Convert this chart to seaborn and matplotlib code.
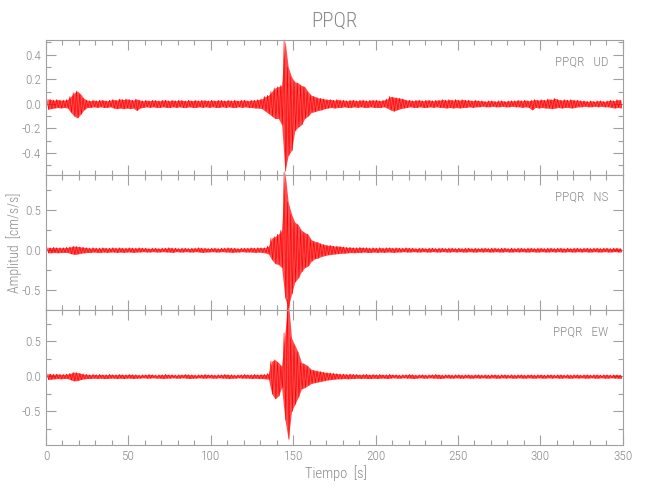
import numpy as np
import pandas as pd
import seaborn as sns
import matplotlib.pyplot as plt
from matplotlib.ticker import MultipleLocator

# peak envelopes, one value per 2 s bin (0-350 s)
ud_hi = [0.04, 0.035, 0.03, 0.035, 0.03, 0.03, 0.035, 0.06, 0.09, 0.105, 0.08, 0.045, 0.03, 0.025, 0.03, 0.025, 0.03, 0.03, 0.025, 0.03, 0.035, 0.03, 0.04, 0.035, 0.04,
         0.035, 0.03, 0.04, 0.03, 0.025, 0.03, 0.025, 0.03, 0.028, 0.025, 0.03, 0.03, 0.025, 0.03, 0.025, 0.03, 0.028, 0.025, 0.03, 0.025, 0.03, 0.025, 0.03, 0.028, 0.025,
         0.03, 0.025, 0.03, 0.028, 0.025, 0.03, 0.025, 0.03, 0.025, 0.03, 0.03, 0.025, 0.03, 0.03, 0.035, 0.04, 0.06, 0.07, 0.1, 0.13, 0.14, 0.15, 0.52, 0.3, 0.22,
         0.18, 0.17, 0.15, 0.14, 0.1, 0.07, 0.06, 0.05, 0.045, 0.04, 0.035, 0.035, 0.03, 0.035, 0.03, 0.03, 0.025, 0.03, 0.03, 0.025, 0.03, 0.03, 0.025, 0.03, 0.03,
         0.03, 0.025, 0.03, 0.04, 0.06, 0.055, 0.05, 0.045, 0.04, 0.03, 0.03, 0.025, 0.03, 0.03, 0.025, 0.03, 0.03, 0.025, 0.03, 0.03, 0.035, 0.03, 0.035, 0.03, 0.035,
         0.03, 0.035, 0.03, 0.03, 0.025, 0.03, 0.025, 0.025, 0.02, 0.025, 0.025, 0.02, 0.025, 0.025, 0.02, 0.025, 0.025, 0.025, 0.03, 0.025, 0.03, 0.025, 0.03, 0.035, 0.03,
         0.035, 0.03, 0.04, 0.035, 0.045, 0.035, 0.03, 0.035, 0.03, 0.035, 0.03, 0.03, 0.025, 0.025, 0.02, 0.025, 0.02, 0.025, 0.025, 0.02, 0.025, 0.03, 0.025, 0.035, 0.03]
ud_lo = [-0.045, -0.04, -0.035, -0.03, -0.035, -0.03, -0.035, -0.07, -0.1, -0.115, -0.085, -0.05, -0.03, -0.03, -0.025, -0.03, -0.025, -0.03, -0.03, -0.025, -0.035, -0.04, -0.035, -0.04, -0.035,
         -0.04, -0.035, -0.055, -0.035, -0.03, -0.025, -0.03, -0.025, -0.03, -0.03, -0.025, -0.03, -0.03, -0.025, -0.03, -0.025, -0.03, -0.03, -0.025, -0.03, -0.03, -0.025, -0.03, -0.025, -0.03,
         -0.025, -0.03, -0.03, -0.025, -0.03, -0.025, -0.03, -0.03, -0.025, -0.03, -0.025, -0.03, -0.03, -0.035, -0.035, -0.04, -0.06, -0.08, -0.1, -0.12, -0.12, -0.17, -0.55, -0.42, -0.38,
         -0.22, -0.19, -0.17, -0.12, -0.1, -0.07, -0.065, -0.055, -0.05, -0.04, -0.035, -0.03, -0.035, -0.03, -0.03, -0.025, -0.03, -0.03, -0.025, -0.03, -0.025, -0.03, -0.03, -0.025, -0.03,
         -0.03, -0.03, -0.025, -0.035, -0.05, -0.06, -0.05, -0.04, -0.035, -0.03, -0.025, -0.03, -0.03, -0.025, -0.03, -0.03, -0.025, -0.03, -0.025, -0.03, -0.03, -0.035, -0.03, -0.035, -0.03,
         -0.035, -0.03, -0.03, -0.025, -0.03, -0.025, -0.025, -0.02, -0.025, -0.025, -0.02, -0.025, -0.025, -0.02, -0.025, -0.025, -0.02, -0.025, -0.025, -0.03, -0.025, -0.03, -0.05, -0.03, -0.035,
         -0.03, -0.035, -0.035, -0.04, -0.035, -0.03, -0.035, -0.03, -0.03, -0.035, -0.03, -0.025, -0.025, -0.02, -0.025, -0.025, -0.02, -0.025, -0.02, -0.025, -0.025, -0.03, -0.035, -0.03, -0.035]

ns_hi = [0.035, 0.03, 0.035, 0.03, 0.03, 0.03, 0.035, 0.04, 0.05, 0.045, 0.04, 0.035, 0.03, 0.025, 0.03, 0.025, 0.025, 0.03, 0.025, 0.025, 0.03, 0.025, 0.03, 0.025, 0.025,
         0.03, 0.025, 0.025, 0.03, 0.025, 0.025, 0.02, 0.025, 0.025, 0.02, 0.025, 0.025, 0.03, 0.025, 0.025, 0.02, 0.025, 0.025, 0.02, 0.025, 0.025, 0.03, 0.025, 0.025, 0.02,
         0.025, 0.025, 0.02, 0.025, 0.025, 0.03, 0.025, 0.025, 0.02, 0.025, 0.025, 0.025, 0.03, 0.025, 0.03, 0.03, 0.03, 0.05, 0.15, 0.17, 0.2, 0.25, 0.98, 0.6, 0.45,
         0.35, 0.32, 0.25, 0.22, 0.2, 0.13, 0.11, 0.1, 0.08, 0.07, 0.06, 0.06, 0.05, 0.05, 0.045, 0.04, 0.035, 0.035, 0.03, 0.03, 0.035, 0.03, 0.03, 0.025, 0.03,
         0.025, 0.03, 0.025, 0.03, 0.03, 0.025, 0.03, 0.025, 0.025, 0.03, 0.025, 0.025, 0.02, 0.025, 0.025, 0.02, 0.025, 0.025, 0.02, 0.025, 0.025, 0.02, 0.025, 0.025, 0.02,
         0.025, 0.02, 0.025, 0.025, 0.02, 0.025, 0.02, 0.025, 0.025, 0.02, 0.025, 0.025, 0.02, 0.025, 0.025, 0.02, 0.025, 0.02, 0.025, 0.025, 0.02, 0.025, 0.025, 0.02, 0.025,
         0.025, 0.02, 0.025, 0.025, 0.02, 0.025, 0.025, 0.02, 0.025, 0.02, 0.025, 0.025, 0.02, 0.025, 0.025, 0.02, 0.025, 0.025, 0.02, 0.025, 0.025, 0.02, 0.025, 0.025, 0.02]
ns_lo = [-0.035, -0.035, -0.03, -0.035, -0.03, -0.03, -0.03, -0.045, -0.055, -0.05, -0.04, -0.035, -0.03, -0.03, -0.025, -0.03, -0.03, -0.025, -0.03, -0.025, -0.025, -0.03, -0.025, -0.03, -0.025,
         -0.025, -0.03, -0.025, -0.025, -0.02, -0.025, -0.025, -0.02, -0.025, -0.025, -0.02, -0.025, -0.025, -0.03, -0.02, -0.025, -0.025, -0.02, -0.025, -0.025, -0.02, -0.025, -0.03, -0.025, -0.025,
         -0.02, -0.025, -0.025, -0.02, -0.025, -0.025, -0.03, -0.025, -0.025, -0.02, -0.025, -0.025, -0.025, -0.03, -0.025, -0.03, -0.035, -0.05, -0.12, -0.17, -0.18, -0.22, -0.6, -0.72, -0.55,
         -0.4, -0.35, -0.27, -0.22, -0.2, -0.14, -0.11, -0.1, -0.08, -0.07, -0.06, -0.055, -0.05, -0.045, -0.04, -0.04, -0.035, -0.03, -0.035, -0.03, -0.03, -0.025, -0.03, -0.03, -0.025,
         -0.03, -0.025, -0.03, -0.025, -0.025, -0.03, -0.025, -0.025, -0.02, -0.025, -0.025, -0.02, -0.025, -0.025, -0.02, -0.025, -0.025, -0.02, -0.025, -0.025, -0.02, -0.025, -0.025, -0.02, -0.025,
         -0.02, -0.025, -0.025, -0.02, -0.025, -0.025, -0.02, -0.025, -0.02, -0.025, -0.025, -0.02, -0.025, -0.025, -0.02, -0.025, -0.025, -0.02, -0.025, -0.02, -0.025, -0.025, -0.02, -0.025, -0.025,
         -0.02, -0.025, -0.025, -0.02, -0.025, -0.02, -0.025, -0.025, -0.02, -0.025, -0.025, -0.02, -0.025, -0.02, -0.025, -0.025, -0.02, -0.025, -0.025, -0.02, -0.025, -0.025, -0.02, -0.025, -0.025]

ew_hi = [0.04, 0.035, 0.03, 0.035, 0.03, 0.03, 0.035, 0.045, 0.06, 0.055, 0.045, 0.035, 0.03, 0.025, 0.03, 0.025, 0.03, 0.025, 0.025, 0.03, 0.025, 0.025, 0.03, 0.025, 0.025,
         0.03, 0.025, 0.025, 0.02, 0.025, 0.025, 0.03, 0.025, 0.02, 0.025, 0.025, 0.03, 0.025, 0.025, 0.02, 0.025, 0.025, 0.03, 0.025, 0.025, 0.02, 0.025, 0.025, 0.03, 0.025,
         0.025, 0.02, 0.025, 0.025, 0.03, 0.025, 0.025, 0.02, 0.025, 0.025, 0.03, 0.025, 0.025, 0.03, 0.025, 0.03, 0.03, 0.04, 0.22, 0.24, 0.2, 0.15, 0.62, 1.1, 0.55,
         0.45, 0.35, 0.2, 0.18, 0.15, 0.1, 0.09, 0.08, 0.07, 0.06, 0.055, 0.05, 0.045, 0.04, 0.035, 0.035, 0.03, 0.035, 0.03, 0.03, 0.025, 0.03, 0.03, 0.025, 0.03,
         0.025, 0.03, 0.025, 0.025, 0.03, 0.025, 0.025, 0.02, 0.025, 0.025, 0.03, 0.025, 0.02, 0.025, 0.025, 0.02, 0.025, 0.025, 0.03, 0.025, 0.02, 0.025, 0.025, 0.02, 0.025,
         0.025, 0.02, 0.025, 0.025, 0.02, 0.025, 0.025, 0.02, 0.025, 0.02, 0.025, 0.025, 0.02, 0.025, 0.025, 0.02, 0.025, 0.02, 0.025, 0.025, 0.02, 0.025, 0.025, 0.02, 0.025,
         0.025, 0.02, 0.025, 0.025, 0.02, 0.025, 0.025, 0.02, 0.025, 0.02, 0.025, 0.025, 0.02, 0.025, 0.025, 0.02, 0.025, 0.025, 0.02, 0.025, 0.025, 0.02, 0.025, 0.025, 0.02]
ew_lo = [-0.045, -0.04, -0.035, -0.03, -0.035, -0.03, -0.03, -0.05, -0.065, -0.06, -0.045, -0.035, -0.03, -0.03, -0.025, -0.03, -0.025, -0.03, -0.03, -0.025, -0.025, -0.03, -0.025, -0.03, -0.025,
         -0.025, -0.03, -0.025, -0.025, -0.02, -0.025, -0.025, -0.02, -0.025, -0.025, -0.03, -0.025, -0.025, -0.02, -0.025, -0.025, -0.02, -0.025, -0.03, -0.025, -0.025, -0.02, -0.025, -0.025, -0.02,
         -0.025, -0.025, -0.02, -0.025, -0.025, -0.03, -0.025, -0.025, -0.02, -0.025, -0.025, -0.025, -0.03, -0.025, -0.03, -0.03, -0.035, -0.04, -0.25, -0.32, -0.28, -0.16, -0.62, -0.9, -0.5,
         -0.4, -0.3, -0.18, -0.16, -0.13, -0.1, -0.09, -0.08, -0.07, -0.06, -0.05, -0.045, -0.04, -0.035, -0.035, -0.03, -0.035, -0.03, -0.03, -0.025, -0.03, -0.025, -0.03, -0.03, -0.025,
         -0.03, -0.025, -0.025, -0.03, -0.025, -0.02, -0.025, -0.025, -0.02, -0.025, -0.025, -0.03, -0.025, -0.02, -0.025, -0.025, -0.02, -0.025, -0.025, -0.03, -0.025, -0.02, -0.025, -0.025, -0.02,
         -0.025, -0.025, -0.02, -0.025, -0.025, -0.02, -0.025, -0.02, -0.025, -0.025, -0.02, -0.025, -0.025, -0.02, -0.025, -0.02, -0.025, -0.025, -0.02, -0.025, -0.025, -0.02, -0.025, -0.025, -0.02,
         -0.025, -0.025, -0.02, -0.025, -0.02, -0.025, -0.025, -0.02, -0.025, -0.025, -0.02, -0.025, -0.02, -0.025, -0.025, -0.02, -0.025, -0.025, -0.02, -0.025, -0.025, -0.02, -0.025, -0.025, -0.03]

station = "PPQR"
components = ["UD", "NS", "EW"]
ylims = [(-0.58, 0.52), (-0.75, 0.94), (-0.98, 0.95)]
ysteps = [(0.2, 0.1), (0.5, 0.25), (0.5, 0.25)]

GREY = "#8a8a8a"
AXC = "#a0a0a0"
RED = "#ff0000"


def trace(hi, lo):
    # each 2 s bin drawn as its max then its min
    t = np.arange(0, 2 * len(hi), 1.0) + 0.5
    amp = np.column_stack([hi, lo]).ravel()
    return pd.DataFrame({"t": t, "amp": amp})


sns.set_theme(style="ticks")
plt.rcParams['font.family'] = ['Roboto Condensed', 'Liberation Sans Narrow', 'DejaVu Sans']
plt.rcParams['font.weight'] = 'light'
plt.rcParams['axes.edgecolor'] = AXC
plt.rcParams['xtick.color'] = AXC
plt.rcParams['ytick.color'] = AXC
plt.rcParams['xtick.labelcolor'] = GREY
plt.rcParams['ytick.labelcolor'] = GREY

fig, axes = plt.subplots(3, 1, figsize=(6.5, 5), dpi=100, sharex=True)
fig.subplots_adjust(left=0.0708, right=0.958, top=0.92, bottom=0.11, hspace=0)

series = [(ud_hi, ud_lo), (ns_hi, ns_lo), (ew_hi, ew_lo)]
for ax, (hi, lo), comp, yl, (maj, mnr) in zip(axes, series, components, ylims, ysteps):
    df = trace(hi, lo)
    tb = np.arange(0, 2 * len(hi), 2.0) + 1.0
    ax.fill_between(tb, lo, hi, color=RED, alpha=0.7, lw=0, clip_on=False)
    sns.lineplot(data=df, x="t", y="amp", ax=ax, color=RED, lw=0.45,
                 estimator=None, sort=False)
    for ln in ax.lines:
        ln.set_clip_on(False)
    ax.set_xlim(0, 350)
    ax.set_ylim(*yl)
    ax.set_xlabel("")
    ax.set_ylabel("")
    ax.xaxis.set_major_locator(MultipleLocator(50))
    ax.xaxis.set_minor_locator(MultipleLocator(10))
    ax.yaxis.set_major_locator(MultipleLocator(maj))
    ax.yaxis.set_minor_locator(MultipleLocator(mnr))
    ax.tick_params(which="both", direction="in", top=True, right=True,
                   labelsize=9.5, width=0.8)
    ax.tick_params(which="major", length=7)
    ax.tick_params(which="minor", length=3.5)
    for s in ax.spines.values():
        s.set_linewidth(0.8)
    ax.text(0.975, 0.84, f"{station}   {comp}", transform=ax.transAxes,
            ha="right", va="center", color=GREY, fontsize=9.5)

fmt = plt.FuncFormatter(lambda v, p: f"{v:.1f}".replace("-0.0", "0.0"))
for ax in axes:
    ax.yaxis.set_major_formatter(fmt)
axes[2].xaxis.set_major_formatter(plt.FuncFormatter(lambda v, p: f"{v:.0f}"))

fig.text(0.515, 0.958, station, ha="center", va="center", color=GREY, fontsize=15)
fig.text(0.517, 0.054, "Tiempo  [s]", ha="center", va="center", color=GREY, fontsize=10.5)
fig.text(0.022, 0.514, "Amplitud  [cm/s/s]", ha="center", va="center", rotation=90,
         color=GREY, fontsize=10)

fig.savefig("out.png", dpi=100)
